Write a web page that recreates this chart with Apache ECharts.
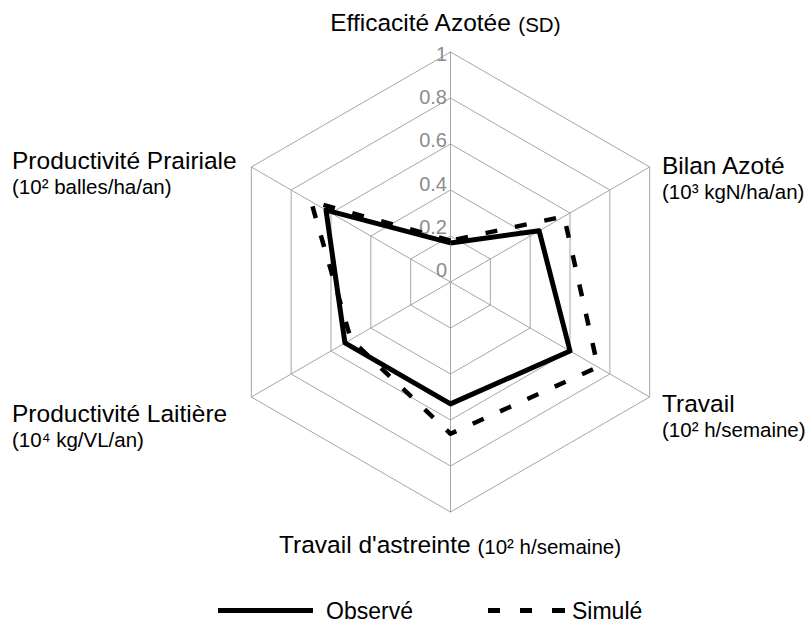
<!DOCTYPE html>
<html>
<head>
<meta charset="utf-8">
<script src="https://cdn.jsdelivr.net/npm/echarts@6/dist/echarts.min.js"></script>
<style>
html,body{margin:0;padding:0;background:#fff;}
#chart{width:810px;height:639px;}
</style>
</head>
<body>
<div id="chart"></div>
<script>
// Axes in ECharts radar order (top, then counter-clockwise)
const indicatorNames = ['Efficacité Azotée', 'Productivité Prairiale', 'Productivité Laitière', "Travail d'astreinte", 'Travail', 'Bilan Azoté'];
const indicatorUnits = ['(SD)', '(10² balles/ha/an)', '(10⁴ kg/VL/an)', '(10² h/semaine)', '(10² h/semaine)', '(10³ kgN/ha/an)'];
const observed  = [0.17, 0.625, 0.53, 0.53, 0.60, 0.445];
const simulated = [0.18, 0.70, 0.50, 0.66, 0.74, 0.57];
const tickValues = [0, 0.2, 0.4, 0.6, 0.8, 1];
const seriesNames = ['Observé', 'Simulé'];

const FONT = '"Liberation Sans", Arial, Helvetica, sans-serif';
const GRID = '#a6a6a6';

const nameLayout = [
  {x: 445, y: 23, align: 'center', inline: true},
  {x: 12, y: 147, align: 'left'},
  {x: 12, y: 400, align: 'left'},
  {x: 450, y: 545, align: 'center', inline: true},
  {x: 662, y: 390, align: 'left'},
  {x: 662, y: 152, align: 'left'}
];

const richStyles = {
  a: {fontSize: 24.5, lineHeight: 26, fontFamily: FONT, color: '#000', align: 'left', verticalAlign: 'middle'},
  b: {fontSize: 20.5, lineHeight: 27, fontFamily: FONT, color: '#000', align: 'left', verticalAlign: 'middle'},
  ai: {fontSize: 24.5, lineHeight: 24, fontFamily: FONT, color: '#000', verticalAlign: 'bottom'},
  bi: {fontSize: 20.5, lineHeight: 21, fontFamily: FONT, color: '#000', verticalAlign: 'bottom'}
};

const nameGraphics = indicatorNames.map(function (n, i) {
  const L = nameLayout[i];
  const txt = L.inline
    ? '{ai|' + n + ' }{bi|' + indicatorUnits[i] + '}'
    : '{a|' + n + '}\n{b|' + indicatorUnits[i] + '}';
  return {
    type: 'text',
    x: L.x,
    y: L.y,
    style: {
      text: txt,
      rich: richStyles,
      align: L.align,
      verticalAlign: L.inline ? 'middle' : 'top',
      fill: '#000',
      font: '24px ' + FONT
    }
  };
});

const chart = echarts.init(document.getElementById('chart'), null, {renderer: 'svg'});
chart.setOption({
  animation: false,
  backgroundColor: '#ffffff',
  textStyle: {fontFamily: FONT},
  radar: {
    center: [450.5, 282],
    radius: 230,
    startAngle: 90,
    splitNumber: 5,
    shape: 'polygon',
    indicator: indicatorNames.map(function (n) { return {name: n, min: 0, max: 1}; }),
    axisName: {show: false},
    axisLine: {lineStyle: {color: GRID, width: 1}},
    splitLine: {lineStyle: {color: GRID, width: 1}},
    splitArea: {show: false},
    axisTick: {show: false},
    axisLabel: {show: false}
  },
  grid: {left: 449, top: 54, width: 1, height: 216},
  xAxis: {type: 'value', show: false},
  yAxis: {
    type: 'value',
    min: tickValues[0],
    max: tickValues[tickValues.length - 1],
    interval: tickValues[1] - tickValues[0],
    axisLine: {show: false},
    axisTick: {show: false},
    splitLine: {show: false},
    axisLabel: {color: '#8c8c8c', fontSize: 20, margin: 2, fontFamily: FONT}
  },
  legend: [
    {
      data: [seriesNames[0]],
      left: 213, top: 594,
      icon: 'path://M0,0H95V5H0Z',
      itemWidth: 95, itemHeight: 5,
      itemStyle: {color: '#000', borderWidth: 0},
      textStyle: {fontSize: 23, color: '#000', fontFamily: FONT, padding: [0, 0, 0, 8]},
      selectedMode: false
    },
    {
      data: [seriesNames[1]],
      left: 483, top: 594,
      icon: 'path://M0,0H12V5H0Z M32,0H44V5H32Z M64,0H77V5H64Z',
      itemWidth: 77, itemHeight: 5,
      itemStyle: {color: '#000', borderWidth: 0},
      textStyle: {fontSize: 23, color: '#000', fontFamily: FONT, padding: [0, 0, 0, 2]},
      selectedMode: false
    }
  ],
  series: [{
    type: 'radar',
    symbol: 'none',
    data: [
      {name: seriesNames[0], value: observed, itemStyle: {color: '#000'},
       lineStyle: {color: '#000', width: 5, type: 'solid'}},
      {name: seriesNames[1], value: simulated, itemStyle: {color: '#000'},
       lineStyle: {color: '#000', width: 4.5, type: [12, 18]}}
    ]
  }],
  graphic: nameGraphics
});
</script>
</body>
</html>
